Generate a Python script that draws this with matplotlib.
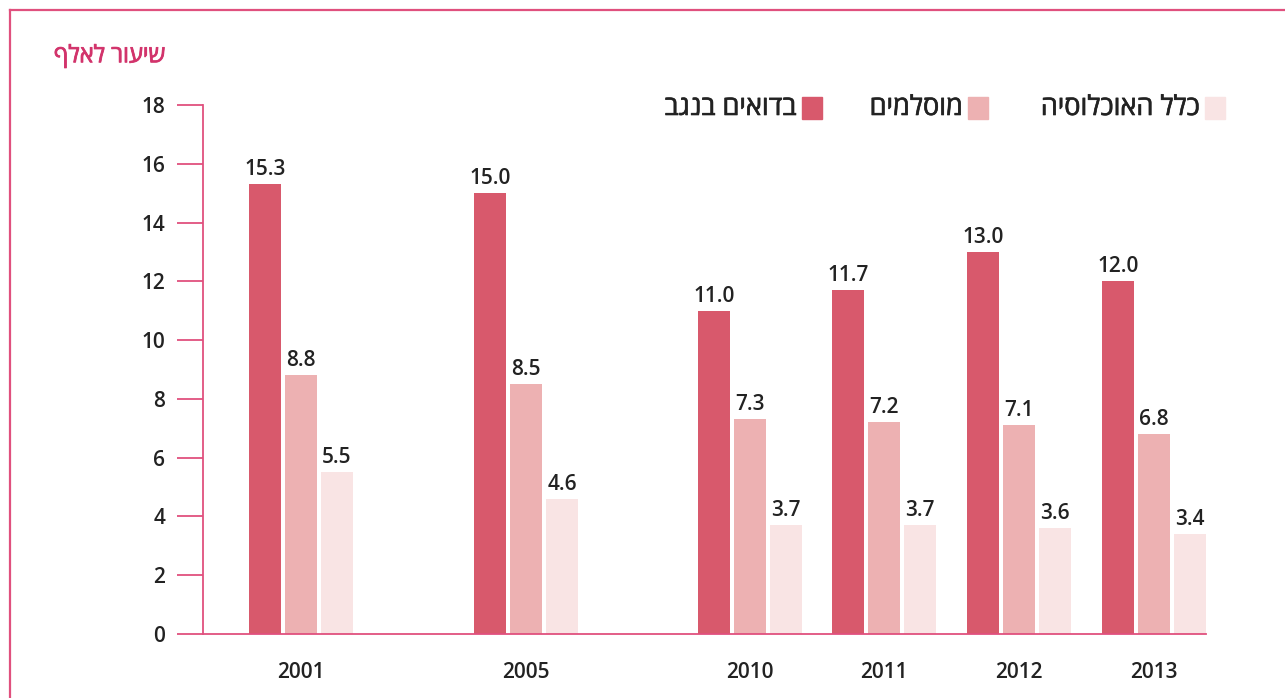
import matplotlib
matplotlib.use("Agg")
import matplotlib.pyplot as plt
from matplotlib.patches import Rectangle
from matplotlib.lines import Line2D
import matplotlib.patheffects as pe
import numpy as np

# ---- data ----
years = ["2001", "2005", "2010", "2011", "2012", "2013"]
series_names = ["בדואים בנגב", "מוסלמים", "כלל האוכלוסיה"]
bedouin = [15.3, 15.0, 11.0, 11.7, 13.0, 12.0]
muslims = [8.8, 8.5, 7.3, 7.2, 7.1, 6.8]
total = [5.5, 4.6, 3.7, 3.7, 3.6, 3.4]
y_ticks = [0, 2, 4, 6, 8, 10, 12, 14, 16, 18]
y_title = "שיעור לאלף"

# ---- layout / style ----
group_pos = [0.0, 1.667, 3.326, 4.32, 5.32, 6.32]
colors = ["#D8596C", "#EDB1B2", "#F9E4E4"]
pink = "#E0507E"
title_pink = "#D2336B"
txt = "#222222"
FAM = ["Open Sans", "DejaVu Sans"]
plt.rcParams["font.family"] = FAM


def heb(s):
    return s[::-1]


W, H = 1285, 698
fig = plt.figure(figsize=(W / 100, H / 100), dpi=100)
ax = fig.add_axes([203 / W, 1 - 634 / H, (1206 - 203) / W, (634 - 105) / H])

bw = 0.237
step = 0.267
for i, (vals, c) in enumerate(zip([bedouin, muslims, total], colors)):
    xs = np.array(group_pos) + (i - 1) * step
    bars = ax.bar(xs, vals, width=bw, color=c, zorder=2)
    for b, v in zip(bars, vals):
        ax.annotate(f"{v:.1f}", (b.get_x() + b.get_width() / 2, v),
                    xytext=(0, 3), textcoords="offset points",
                    ha="center", va="bottom", fontsize=15,
                    fontweight="semibold", color=txt)

ax.set_xlim(group_pos[0] - 0.726, group_pos[-1] + step + bw / 2)
ax.set_ylim(0, 18)
ax.set_yticks(y_ticks)
ax.set_yticklabels([str(t) for t in y_ticks], fontsize=15,
                   fontweight="semibold", color=txt)
ax.set_xticks(group_pos)
ax.set_xticklabels(years, fontsize=15, fontweight="semibold", color=txt)
ax.tick_params(axis="x", length=0, pad=20)
ax.tick_params(axis="y", length=19, width=1.3, color=pink, pad=8)
for s in ["top", "right"]:
    ax.spines[s].set_visible(False)
for s in ["left", "bottom"]:
    ax.spines[s].set_color(pink)
    ax.spines[s].set_linewidth(1.3)
ax.spines["bottom"].set_zorder(3)

# y-axis title
fig.text(165 / W, 1 - 56 / H, heb(y_title), ha="right", va="center",
         fontsize=17, color=title_pink,
         path_effects=[pe.withStroke(linewidth=0.6, foreground=title_pink)])

# legend (RTL: square right of label)
sq_left = [802, 968, 1205]
for name, c, xl in zip(series_names, colors, sq_left):
    fig.add_artist(Rectangle((xl / W, 1 - 119 / H), 20 / W, 22 / H,
                             transform=fig.transFigure, color=c))
    fig.text((xl - 5) / W, 1 - 108 / H, heb(name), ha="right", va="center",
             fontsize=19.5, color=txt,
             path_effects=[pe.withStroke(linewidth=0.45, foreground=txt)])

# frame
fig.add_artist(Line2D([10 / W, 10 / W], [0, 1 - 10 / H], transform=fig.transFigure,
                      color=pink, lw=1.6))
fig.add_artist(Line2D([10 / W, 1], [1 - 10 / H, 1 - 10 / H], transform=fig.transFigure,
                      color=pink, lw=1.6))

fig.savefig("out.png", dpi=100)
